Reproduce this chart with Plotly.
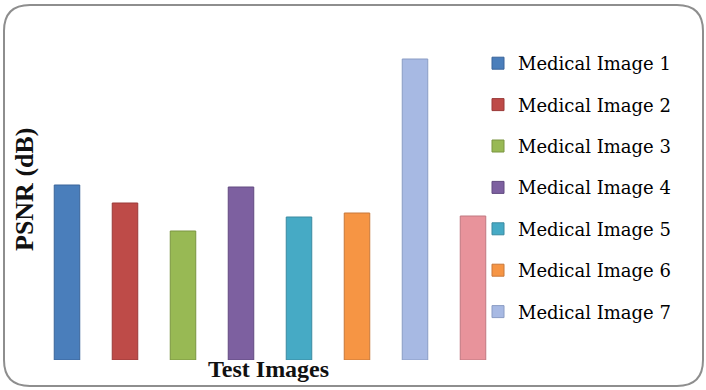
import plotly.graph_objects as go

categories = ["Medical Image 1", "Medical Image 2", "Medical Image 3", "Medical Image 4",
              "Medical Image 5", "Medical Image 6", "Medical Image 7", "Medical Image 8"]
psnr_values = [35.0, 31.4, 25.8, 34.6, 28.6, 29.4, 60.2, 28.8]
colors = ["#4a7ebb", "#be4b48", "#98b954", "#7d60a0", "#46aac5", "#f69544", "#a7b9e3", "#e8939b"]
edges = ["#3a659a", "#9a3a38", "#7a9540", "#624a80", "#3a8aa0", "#c8783a", "#8a9cc4", "#c07880"]
in_legend = [True, True, True, True, True, True, True, False]

W, H = 706, 390
L, R, T, B = 38, 204, 40, 30
pw, ph = W - L - R, H - T - B

fig = go.Figure()
for i, (c, v) in enumerate(zip(categories, psnr_values)):
    fig.add_trace(go.Bar(
        x=[c], y=[v], name=c, legendgroup=c,
        marker=dict(color=colors[i], line=dict(color=edges[i], width=1)),
        showlegend=in_legend[i], width=0.44,
    ))

def px2paper(x, y):
    return (x - L) / pw, (H - B - y) / ph

# rounded frame
x0, y0, x1, y1, r = 4, 5, 703, 386, 26
def P(x, y):
    a, b = px2paper(x, y)
    return f"{a:.5f},{b:.5f}"
path = (f"M {P(x0 + r, y0)} L {P(x1 - r, y0)} Q {P(x1, y0)} {P(x1, y0 + r)} "
        f"L {P(x1, y1 - r)} Q {P(x1, y1)} {P(x1 - r, y1)} "
        f"L {P(x0 + r, y1)} Q {P(x0, y1)} {P(x0, y1 - r)} "
        f"L {P(x0, y0 + r)} Q {P(x0, y0)} {P(x0 + r, y0)} Z")
fig.add_shape(type="path", path=path, xref="paper", yref="paper",
              line=dict(color="#8e8e8e", width=2), layer="below")

ax_x, ax_y = px2paper(24, 189)
fig.add_annotation(text="<b>PSNR (dB)</b>", x=ax_x, y=ax_y, xref="paper", yref="paper",
                   xanchor="center", yanchor="middle",
                   textangle=-90, showarrow=False,
                   font=dict(family="Liberation Serif", size=26, color="#111111"))
tx, ty = px2paper(268, 369)
fig.add_annotation(text="<b>Test Images</b>", x=tx, y=ty, xref="paper", yref="paper",
                   xanchor="center", yanchor="middle",
                   showarrow=False,
                   font=dict(family="Liberation Serif", size=24, color="#111111"))

lx, ly = px2paper(478, 45)
fig.update_layout(
    width=W, height=H,
    margin=dict(l=L, r=R, t=T, b=B),
    paper_bgcolor="white", plot_bgcolor="white",
    barmode="overlay",
    showlegend=True,
    legend=dict(x=lx, y=ly, xanchor="left", yanchor="top",
                font=dict(family="DejaVu Serif", size=18, color="#000000"),
                tracegroupgap=15, bgcolor="rgba(0,0,0,0)"),
    xaxis=dict(visible=False, range=[-0.5, 7.5]),
    yaxis=dict(visible=False, range=[0, 64]),
)

fig.write_html("out.html")
